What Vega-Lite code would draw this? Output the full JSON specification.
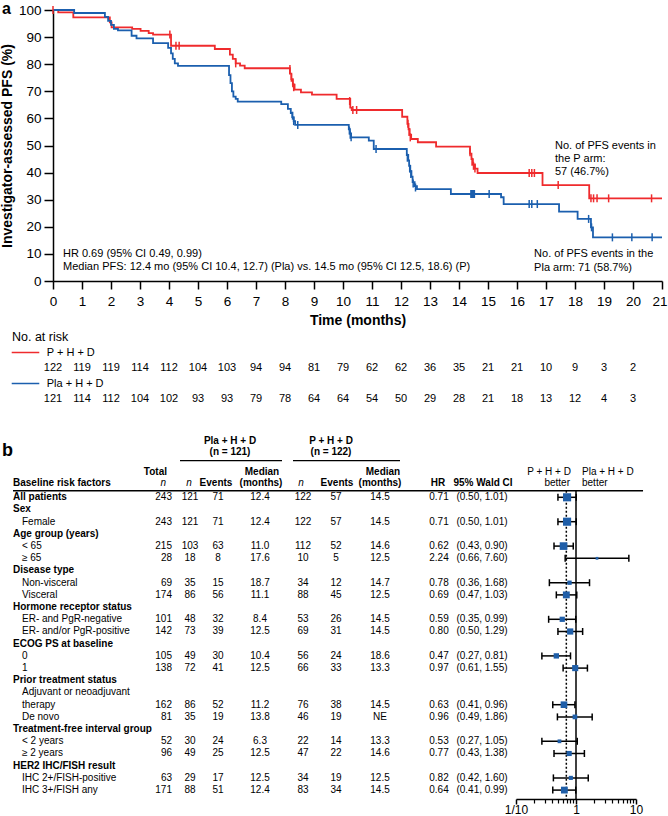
{
"$schema": "https://vega.github.io/schema/vega-lite/v6.json",
"padding": {"left": 0, "top": 1, "right": 0, "bottom": 0},
"autosize": {"type": "pad"},
"background": "white",
"config": {"font": "Liberation Sans", "view": {"stroke": null}, "text": {"color": "black"}, "axis": {"grid": false, "domainColor": "black", "tickColor": "black", "labelColor": "black", "titleColor": "black"}},
"datasets": {
"km": [
{"arm":"P","t":0,"s":100},{"arm":"P","t":0.18,"s":99.1},{"arm":"P","t":0.7,"s":97.3},{"arm":"P","t":1.96,"s":95.4},{"arm":"P","t":2.02,"s":93.6},{"arm":"P","t":2.73,"s":93.0},{"arm":"P","t":3.02,"s":92.3},{"arm":"P","t":3.3,"s":91.5},{"arm":"P","t":3.45,"s":90.9},{"arm":"P","t":4.07,"s":86.8},{"arm":"P","t":5.58,"s":85.6},{"arm":"P","t":6.1,"s":83.5},{"arm":"P","t":6.2,"s":82},{"arm":"P","t":6.3,"s":80.3},{"arm":"P","t":6.45,"s":79.5},{"arm":"P","t":6.61,"s":78.5},{"arm":"P","t":8.17,"s":76.5},{"arm":"P","t":8.22,"s":74.5},{"arm":"P","t":8.27,"s":72.5},{"arm":"P","t":8.33,"s":70.6},{"arm":"P","t":8.55,"s":69.6},{"arm":"P","t":8.93,"s":68.8},{"arm":"P","t":9.78,"s":67.2},{"arm":"P","t":10.25,"s":64},{"arm":"P","t":10.3,"s":63.1},{"arm":"P","t":12.04,"s":60.6},{"arm":"P","t":12.22,"s":58},{"arm":"P","t":12.26,"s":56},{"arm":"P","t":12.3,"s":54},{"arm":"P","t":12.35,"s":52.4},{"arm":"P","t":12.58,"s":51.2},{"arm":"P","t":13.21,"s":49.6},{"arm":"P","t":14.38,"s":47},{"arm":"P","t":14.43,"s":45},{"arm":"P","t":14.48,"s":43},{"arm":"P","t":14.55,"s":41.5},{"arm":"P","t":14.64,"s":39.85},{"arm":"P","t":16.88,"s":35.4},{"arm":"P","t":18.49,"s":30.5},{"arm":"P","t":21,"s":30.5},
{"arm":"Pla","t":0,"s":100},{"arm":"Pla","t":0.73,"s":98.9},{"arm":"Pla","t":1.79,"s":97.5},{"arm":"Pla","t":1.9,"s":96},{"arm":"Pla","t":2.0,"s":94.5},{"arm":"Pla","t":2.1,"s":93},{"arm":"Pla","t":2.24,"s":92.5},{"arm":"Pla","t":2.71,"s":90.5},{"arm":"Pla","t":2.88,"s":89.5},{"arm":"Pla","t":3.45,"s":87.8},{"arm":"Pla","t":3.97,"s":86},{"arm":"Pla","t":4.07,"s":84},{"arm":"Pla","t":4.13,"s":82},{"arm":"Pla","t":4.2,"s":80.3},{"arm":"Pla","t":4.31,"s":79.4},{"arm":"Pla","t":6.07,"s":76},{"arm":"Pla","t":6.12,"s":73},{"arm":"Pla","t":6.17,"s":70},{"arm":"Pla","t":6.22,"s":68},{"arm":"Pla","t":6.3,"s":67.2},{"arm":"Pla","t":6.37,"s":66.2},{"arm":"Pla","t":7.87,"s":65.3},{"arm":"Pla","t":8.1,"s":63.5},{"arm":"Pla","t":8.2,"s":62},{"arm":"Pla","t":8.25,"s":60.5},{"arm":"Pla","t":8.3,"s":59},{"arm":"Pla","t":8.35,"s":57.6},{"arm":"Pla","t":10.2,"s":56},{"arm":"Pla","t":10.24,"s":54.5},{"arm":"Pla","t":10.28,"s":53},{"arm":"Pla","t":10.89,"s":51.8},{"arm":"Pla","t":11.06,"s":48.7},{"arm":"Pla","t":12.2,"s":46.5},{"arm":"Pla","t":12.25,"s":44.5},{"arm":"Pla","t":12.28,"s":42.5},{"arm":"Pla","t":12.32,"s":40.5},{"arm":"Pla","t":12.36,"s":38.5},{"arm":"Pla","t":12.4,"s":36.5},{"arm":"Pla","t":12.47,"s":35},{"arm":"Pla","t":12.55,"s":33.9},{"arm":"Pla","t":13.72,"s":32.1},{"arm":"Pla","t":15.45,"s":30.9},{"arm":"Pla","t":15.54,"s":28.4},{"arm":"Pla","t":17.45,"s":25.6},{"arm":"Pla","t":18.09,"s":22.9},{"arm":"Pla","t":18.55,"s":19.8},{"arm":"Pla","t":18.62,"s":16.1},{"arm":"Pla","t":21,"s":16.1}
],
"cens": [
{"arm":"P","t":0,"s":100},{"arm":"P","t":4.03,"s":91},{"arm":"P","t":4.24,"s":86.8},{"arm":"P","t":4.35,"s":86.8},{"arm":"P","t":6.3,"s":80.3},{"arm":"P","t":8.17,"s":78.2},{"arm":"P","t":8.22,"s":75},{"arm":"P","t":8.27,"s":73},{"arm":"P","t":8.3,"s":71.5},{"arm":"P","t":10.23,"s":66.4},{"arm":"P","t":10.34,"s":63.1},{"arm":"P","t":10.47,"s":63.1},{"arm":"P","t":12.24,"s":58},{"arm":"P","t":12.28,"s":55},{"arm":"P","t":12.32,"s":53},{"arm":"P","t":14.38,"s":47.5},{"arm":"P","t":14.45,"s":44},{"arm":"P","t":14.5,"s":42.5},{"arm":"P","t":14.55,"s":41.5},{"arm":"P","t":16.42,"s":39.85},{"arm":"P","t":16.51,"s":39.85},{"arm":"P","t":16.6,"s":39.85},{"arm":"P","t":17.42,"s":35.4},{"arm":"P","t":18.55,"s":30.5},{"arm":"P","t":18.64,"s":30.5},{"arm":"P","t":18.76,"s":30.5},{"arm":"P","t":19.16,"s":30.5},{"arm":"P","t":20.64,"s":30.5},
{"arm":"Pla","t":8.26,"s":61},{"arm":"Pla","t":8.3,"s":59},{"arm":"Pla","t":8.44,"s":57.6},{"arm":"Pla","t":10.22,"s":55.5},{"arm":"Pla","t":10.25,"s":54},{"arm":"Pla","t":10.28,"s":53},{"arm":"Pla","t":11.14,"s":48.7},{"arm":"Pla","t":12.22,"s":45.5},{"arm":"Pla","t":12.3,"s":41.5},{"arm":"Pla","t":12.34,"s":39.5},{"arm":"Pla","t":12.42,"s":36},{"arm":"Pla","t":12.5,"s":34.5},{"arm":"Pla","t":14.41,"s":32.1},{"arm":"Pla","t":14.44,"s":32.1},{"arm":"Pla","t":14.47,"s":32.1},{"arm":"Pla","t":14.5,"s":32.1},{"arm":"Pla","t":14.53,"s":32.1},{"arm":"Pla","t":15.04,"s":32.1},{"arm":"Pla","t":16.42,"s":28.4},{"arm":"Pla","t":16.51,"s":28.4},{"arm":"Pla","t":16.7,"s":28.4},{"arm":"Pla","t":18.47,"s":22.9},{"arm":"Pla","t":18.57,"s":19.8},{"arm":"Pla","t":19.29,"s":16.1},{"arm":"Pla","t":19.96,"s":16.1},{"arm":"Pla","t":20.66,"s":16.1}
],
"risk": [
{"arm":"P","month":0,"n":122},{"arm":"P","month":1,"n":119},{"arm":"P","month":2,"n":119},{"arm":"P","month":3,"n":114},{"arm":"P","month":4,"n":112},{"arm":"P","month":5,"n":104},{"arm":"P","month":6,"n":103},{"arm":"P","month":7,"n":94},{"arm":"P","month":8,"n":94},{"arm":"P","month":9,"n":81},{"arm":"P","month":10,"n":79},{"arm":"P","month":11,"n":62},{"arm":"P","month":12,"n":62},{"arm":"P","month":13,"n":36},{"arm":"P","month":14,"n":35},{"arm":"P","month":15,"n":21},{"arm":"P","month":16,"n":21},{"arm":"P","month":17,"n":10},{"arm":"P","month":18,"n":9},{"arm":"P","month":19,"n":3},{"arm":"P","month":20,"n":2},
{"arm":"Pla","month":0,"n":121},{"arm":"Pla","month":1,"n":114},{"arm":"Pla","month":2,"n":112},{"arm":"Pla","month":3,"n":104},{"arm":"Pla","month":4,"n":102},{"arm":"Pla","month":5,"n":93},{"arm":"Pla","month":6,"n":93},{"arm":"Pla","month":7,"n":79},{"arm":"Pla","month":8,"n":78},{"arm":"Pla","month":9,"n":64},{"arm":"Pla","month":10,"n":64},{"arm":"Pla","month":11,"n":54},{"arm":"Pla","month":12,"n":50},{"arm":"Pla","month":13,"n":29},{"arm":"Pla","month":14,"n":28},{"arm":"Pla","month":15,"n":21},{"arm":"Pla","month":16,"n":18},{"arm":"Pla","month":17,"n":13},{"arm":"Pla","month":18,"n":12},{"arm":"Pla","month":19,"n":4},{"arm":"Pla","month":20,"n":3}
],
"rows": [
{"row":0,"kind":"a","label":"All patients","total":"243","pn":"121","pev":"71","pmed":"12.4","qn":"122","qev":"57","qmed":"14.5","hr":"0.71","ci":"(0.50, 1.01)","hrv":0.71,"lo":0.50,"hi":1.01,"w":243},
{"row":1,"kind":"h","label":"Sex"},
{"row":2,"kind":"s","label":"Female","total":"243","pn":"121","pev":"71","pmed":"12.4","qn":"122","qev":"57","qmed":"14.5","hr":"0.71","ci":"(0.50, 1.01)","hrv":0.71,"lo":0.50,"hi":1.01,"w":243},
{"row":3,"kind":"h","label":"Age group (years)"},
{"row":4,"kind":"s","label":"< 65","total":"215","pn":"103","pev":"63","pmed":"11.0","qn":"112","qev":"52","qmed":"14.6","hr":"0.62","ci":"(0.43, 0.90)","hrv":0.62,"lo":0.43,"hi":0.90,"w":215},
{"row":5,"kind":"s","label":"≥ 65","total":"28","pn":"18","pev":"8","pmed":"17.6","qn":"10","qev":"5","qmed":"12.5","hr":"2.24","ci":"(0.66, 7.60)","hrv":2.24,"lo":0.66,"hi":7.60,"w":28},
{"row":6,"kind":"h","label":"Disease type"},
{"row":7,"kind":"s","label":"Non-visceral","total":"69","pn":"35","pev":"15","pmed":"18.7","qn":"34","qev":"12","qmed":"14.7","hr":"0.78","ci":"(0.36, 1.68)","hrv":0.78,"lo":0.36,"hi":1.68,"w":69},
{"row":8,"kind":"s","label":"Visceral","total":"174","pn":"86","pev":"56","pmed":"11.1","qn":"88","qev":"45","qmed":"12.5","hr":"0.69","ci":"(0.47, 1.03)","hrv":0.69,"lo":0.47,"hi":1.03,"w":174},
{"row":9,"kind":"h","label":"Hormone receptor status"},
{"row":10,"kind":"s","label":"ER- and PgR-negative","total":"101","pn":"48","pev":"32","pmed":"8.4","qn":"53","qev":"26","qmed":"14.5","hr":"0.59","ci":"(0.35, 0.99)","hrv":0.59,"lo":0.35,"hi":0.99,"w":101},
{"row":11,"kind":"s","label":"ER- and/or PgR-positive","total":"142","pn":"73","pev":"39","pmed":"12.5","qn":"69","qev":"31","qmed":"14.5","hr":"0.80","ci":"(0.50, 1.29)","hrv":0.80,"lo":0.50,"hi":1.29,"w":142},
{"row":12,"kind":"h","label":"ECOG PS at baseline"},
{"row":13,"kind":"s","label":"0","total":"105","pn":"49","pev":"30","pmed":"10.4","qn":"56","qev":"24","qmed":"18.6","hr":"0.47","ci":"(0.27, 0.81)","hrv":0.47,"lo":0.27,"hi":0.81,"w":105},
{"row":14,"kind":"s","label":"1","total":"138","pn":"72","pev":"41","pmed":"12.5","qn":"66","qev":"33","qmed":"13.3","hr":"0.97","ci":"(0.61, 1.55)","hrv":0.97,"lo":0.61,"hi":1.55,"w":138},
{"row":15,"kind":"h","label":"Prior treatment status"},
{"row":16,"kind":"t","label":"Adjuvant or neoadjuvant"},
{"row":17,"kind":"s","label":"therapy","total":"162","pn":"86","pev":"52","pmed":"11.2","qn":"76","qev":"38","qmed":"14.5","hr":"0.63","ci":"(0.41, 0.96)","hrv":0.63,"lo":0.41,"hi":0.96,"w":162},
{"row":18,"kind":"s","label":"De novo","total":"81","pn":"35","pev":"19","pmed":"13.8","qn":"46","qev":"19","qmed":"NE","hr":"0.96","ci":"(0.49, 1.86)","hrv":0.96,"lo":0.49,"hi":1.86,"w":81},
{"row":19,"kind":"h","label":"Treatment-free interval group"},
{"row":20,"kind":"s","label":"< 2 years","total":"52","pn":"30","pev":"24","pmed":"6.3","qn":"22","qev":"14","qmed":"13.3","hr":"0.53","ci":"(0.27, 1.05)","hrv":0.53,"lo":0.27,"hi":1.05,"w":52},
{"row":21,"kind":"s","label":"≥ 2 years","total":"96","pn":"49","pev":"25","pmed":"12.5","qn":"47","qev":"22","qmed":"14.6","hr":"0.77","ci":"(0.43, 1.38)","hrv":0.77,"lo":0.43,"hi":1.38,"w":96},
{"row":22,"kind":"h","label":"HER2 IHC/FISH result"},
{"row":23,"kind":"s","label":"IHC 2+/FISH-positive","total":"63","pn":"29","pev":"17","pmed":"12.5","qn":"34","qev":"19","qmed":"12.5","hr":"0.82","ci":"(0.42, 1.60)","hrv":0.82,"lo":0.42,"hi":1.60,"w":63},
{"row":24,"kind":"s","label":"IHC 3+/FISH any","total":"171","pn":"88","pev":"51","pmed":"12.4","qn":"83","qev":"34","qmed":"14.5","hr":"0.64","ci":"(0.41, 0.99)","hrv":0.64,"lo":0.41,"hi":0.99,"w":171}
]
},
"bounds": "flush",
"spacing": 56,
"vconcat": [
{
"width": 609, "height": 271,
"resolve": {"axis": {"x": "independent", "y": "independent"}},
"layer": [
{"data": {"name": "km"}, "mark": {"type": "line", "interpolate": "step-after", "strokeWidth": 1.8},
 "encoding": {
  "x": {"field": "t", "type": "quantitative", "scale": {"domain": [0, 21], "nice": false, "zero": false},
   "axis": {"values": [0,1,2,3,4,5,6,7,8,9,10,11,12,13,14,15,16,17,18,19,20,21], "title": "Time (months)", "titleFontSize": 14, "titleFontWeight": "bold", "titlePadding": 6, "labelFontSize": 13.5, "labelPadding": 5, "tickSize": 8, "tickWidth": 1.5, "domainWidth": 1.5, "labelFlush": false, "labelOverlap": false, "labelOffset": {"condition": {"test": "datum.value == 21", "value": -2.5}, "value": 0}}},
  "y": {"field": "s", "type": "quantitative", "scale": {"domain": [0, 100], "nice": false, "zero": false},
   "axis": {"values": [0,10,20,30,40,50,60,70,80,90,100], "title": "Investigator-assessed PFS (%)", "titleFontSize": 14, "titleFontWeight": "bold", "titlePadding": 4, "labelFontSize": 13.5, "labelPadding": 3, "tickSize": 9, "tickWidth": 1.5, "domainWidth": 1.5}},
  "color": {"field": "arm", "type": "nominal", "scale": {"domain": ["Pla", "P"], "range": ["#1b5fae", "#ef2b2d"]}, "legend": null}
 }},
{"data": {"name": "cens"}, "mark": {"type": "point", "shape": "M0,-1L0,1", "size": 64, "strokeWidth": 1.5, "filled": false, "opacity": 1},
 "encoding": {
  "x": {"field": "t", "type": "quantitative", "scale": {"domain": [0, 21], "nice": false, "zero": false}, "axis": null},
  "y": {"field": "s", "type": "quantitative", "scale": {"domain": [0, 100], "nice": false, "zero": false}, "axis": null},
  "color": {"field": "arm", "type": "nominal", "scale": {"domain": ["Pla", "P"], "range": ["#1b5fae", "#ef2b2d"]}, "legend": null}
 }},
{"data": {"values": [{}]}, "mark": {"type": "text", "text": "a", "fontSize": 16, "fontWeight": "bold", "align": "left", "baseline": "alphabetic"},
 "encoding": {"x": {"datum": -1.7586, "scale": {"domain": [0, 21], "nice": false, "zero": false}, "axis": null}, "y": {"datum": 98.5, "scale": {"domain": [0, 100], "nice": false, "zero": false}, "axis": null}}},
{"data": {"values": [{}]}, "mark": {"type": "text", "text": "HR 0.69 (95% CI 0.49, 0.99)", "fontSize": 11, "align": "left", "baseline": "middle"},
 "encoding": {"x": {"datum": 0.345, "scale": {"domain": [0, 21], "nice": false, "zero": false}, "axis": null}, "y": {"datum": 10, "scale": {"domain": [0, 100], "nice": false, "zero": false}, "axis": null}}},
{"data": {"values": [{}]}, "mark": {"type": "text", "text": "Median PFS: 12.4 mo (95% CI 10.4, 12.7) (Pla) vs. 14.5 mo (95% CI 12.5, 18.6) (P)", "fontSize": 11, "align": "left", "baseline": "middle"},
 "encoding": {"x": {"datum": 0.345, "scale": {"domain": [0, 21], "nice": false, "zero": false}, "axis": null}, "y": {"datum": 5.1, "scale": {"domain": [0, 100], "nice": false, "zero": false}, "axis": null}}},
{"data": {"values": [{}]}, "mark": {"type": "text", "text": ["No. of PFS events in", "the P arm:", "57 (46.7%)"], "lineHeight": 13.3, "fontSize": 11, "align": "left", "baseline": "middle"},
 "encoding": {"x": {"datum": 17.31, "scale": {"domain": [0, 21], "nice": false, "zero": false}, "axis": null}, "y": {"datum": 49.9, "scale": {"domain": [0, 100], "nice": false, "zero": false}, "axis": null}}},
{"data": {"values": [{}]}, "mark": {"type": "text", "text": ["No. of PFS events in the", "Pla arm: 71 (58.7%)"], "lineHeight": 13.5, "fontSize": 11, "align": "left", "baseline": "middle"},
 "encoding": {"x": {"datum": 16.59, "scale": {"domain": [0, 21], "nice": false, "zero": false}, "axis": null}, "y": {"datum": 9.96, "scale": {"domain": [0, 100], "nice": false, "zero": false}, "axis": null}}}
]
},
{
"width": 609, "height": 62,
"layer": [
{"data": {"name": "risk"}, "mark": {"type": "text", "fontSize": 11, "align": "center", "baseline": "middle"},
 "encoding": {
  "x": {"field": "month", "type": "quantitative", "scale": {"domain": [0, 21], "nice": false, "zero": false}, "axis": null},
  "y": {"field": "arm", "type": "nominal", "scale": {"type": "point", "domain": ["title", "pleg", "P", "plaleg", "Pla"], "padding": 0}, "axis": null},
  "text": {"field": "n", "type": "quantitative"}
 }},
{"data": {"values": [{}]}, "mark": {"type": "text", "text": "No. at risk", "fontSize": 12.5, "align": "left", "baseline": "middle"},
 "encoding": {"x": {"datum": -1.414, "scale": {"domain": [0, 21], "nice": false, "zero": false}, "axis": null}, "y": {"datum": "title", "type": "nominal", "scale": {"type": "point", "domain": ["title", "pleg", "P", "plaleg", "Pla"], "padding": 0}, "axis": null}}},
{"data": {"values": [{}]}, "mark": {"type": "rule", "color": "#ef2b2d", "strokeWidth": 1.5},
 "encoding": {"x": {"datum": -1.424, "scale": {"domain": [0, 21], "nice": false, "zero": false}, "axis": null}, "x2": {"datum": -0.473}, "y": {"datum": "pleg", "type": "nominal", "scale": {"type": "point", "domain": ["title", "pleg", "P", "plaleg", "Pla"], "padding": 0}, "axis": null}}},
{"data": {"values": [{}]}, "mark": {"type": "rule", "color": "#1b5fae", "strokeWidth": 1.5},
 "encoding": {"x": {"datum": -1.424, "scale": {"domain": [0, 21], "nice": false, "zero": false}, "axis": null}, "x2": {"datum": -0.473}, "y": {"datum": "plaleg", "type": "nominal", "scale": {"type": "point", "domain": ["title", "pleg", "P", "plaleg", "Pla"], "padding": 0}, "axis": null}}},
{"data": {"values": [{}]}, "mark": {"type": "text", "text": "P + H + D", "fontSize": 11, "align": "left", "baseline": "middle"},
 "encoding": {"x": {"datum": -0.217, "scale": {"domain": [0, 21], "nice": false, "zero": false}, "axis": null}, "y": {"datum": "pleg", "type": "nominal", "scale": {"type": "point", "domain": ["title", "pleg", "P", "plaleg", "Pla"], "padding": 0}, "axis": null}}},
{"data": {"values": [{}]}, "mark": {"type": "text", "text": "Pla + H + D", "fontSize": 11, "align": "left", "baseline": "middle"},
 "encoding": {"x": {"datum": -0.217, "scale": {"domain": [0, 21], "nice": false, "zero": false}, "axis": null}, "y": {"datum": "plaleg", "type": "nominal", "scale": {"type": "point", "domain": ["title", "pleg", "P", "plaleg", "Pla"], "padding": 0}, "axis": null}}}
]
},
{
"bounds": "flush",
"spacing": 10,
"hconcat": [
{
"width": 453, "height": 344,
"layer": [
{"data": {"values": [{}]}, "mark": {"type": "text", "text": "b", "fontSize": 18, "fontWeight": "bold", "align": "left", "baseline": "alphabetic"},
 "encoding": {"x": {"datum": 2, "scale": {"domain": [53, 506], "nice": false, "zero": false}, "axis": null}, "y": {"datum": -3.385, "scale": {"domain": [-3.467, 24.73], "reverse": true, "nice": false, "zero": false}, "axis": null}}},
{"data": {"values": [{}]}, "mark": {"type": "text", "text": "Pla + H + D", "fontSize": 10, "fontWeight": "bold", "align": "center", "baseline": "middle"},
 "encoding": {"x": {"datum": 230, "scale": {"domain": [53, 506], "nice": false, "zero": false}, "axis": null}, "y": {"datum": -4.639, "scale": {"domain": [-3.467, 24.73], "reverse": true, "nice": false, "zero": false}, "axis": null}}},
{"data": {"values": [{}]}, "mark": {"type": "text", "text": "(n = 121)", "fontSize": 10, "fontWeight": "bold", "align": "center", "baseline": "middle"},
 "encoding": {"x": {"datum": 230, "scale": {"domain": [53, 506], "nice": false, "zero": false}, "axis": null}, "y": {"datum": -3.689, "scale": {"domain": [-3.467, 24.73], "reverse": true, "nice": false, "zero": false}, "axis": null}}},
{"data": {"values": [{}]}, "mark": {"type": "text", "text": "P + H + D", "fontSize": 10, "fontWeight": "bold", "align": "center", "baseline": "middle"},
 "encoding": {"x": {"datum": 331, "scale": {"domain": [53, 506], "nice": false, "zero": false}, "axis": null}, "y": {"datum": -4.639, "scale": {"domain": [-3.467, 24.73], "reverse": true, "nice": false, "zero": false}, "axis": null}}},
{"data": {"values": [{}]}, "mark": {"type": "text", "text": "(n = 122)", "fontSize": 10, "fontWeight": "bold", "align": "center", "baseline": "middle"},
 "encoding": {"x": {"datum": 331, "scale": {"domain": [53, 506], "nice": false, "zero": false}, "axis": null}, "y": {"datum": -3.689, "scale": {"domain": [-3.467, 24.73], "reverse": true, "nice": false, "zero": false}, "axis": null}}},
{"data": {"values": [{}]}, "mark": {"type": "rule", "strokeWidth": 1.2, "color": "black"},
 "encoding": {"x": {"datum": 180, "scale": {"domain": [53, 506], "nice": false, "zero": false}, "axis": null}, "x2": {"datum": 282}, "y": {"datum": -3.0, "scale": {"domain": [-3.467, 24.73], "reverse": true, "nice": false, "zero": false}, "axis": null}}},
{"data": {"values": [{}]}, "mark": {"type": "rule", "strokeWidth": 1.2, "color": "black"},
 "encoding": {"x": {"datum": 293, "scale": {"domain": [53, 506], "nice": false, "zero": false}, "axis": null}, "x2": {"datum": 400}, "y": {"datum": -3.0, "scale": {"domain": [-3.467, 24.73], "reverse": true, "nice": false, "zero": false}, "axis": null}}},
{"data": {"values": [{}]}, "mark": {"type": "text", "text": "Total", "fontSize": 10, "fontWeight": "bold", "align": "right", "baseline": "middle"},
 "encoding": {"x": {"datum": 167, "scale": {"domain": [53, 506], "nice": false, "zero": false}, "axis": null}, "y": {"datum": -2.098, "scale": {"domain": [-3.467, 24.73], "reverse": true, "nice": false, "zero": false}, "axis": null}}},
{"data": {"values": [{}]}, "mark": {"type": "text", "text": "n", "fontSize": 10, "fontStyle": "italic", "align": "right", "baseline": "middle"},
 "encoding": {"x": {"datum": 166, "scale": {"domain": [53, 506], "nice": false, "zero": false}, "axis": null}, "y": {"datum": -1.148, "scale": {"domain": [-3.467, 24.73], "reverse": true, "nice": false, "zero": false}, "axis": null}}},
{"data": {"values": [{}]}, "mark": {"type": "text", "text": "Baseline risk factors", "fontSize": 10, "fontWeight": "bold", "align": "left", "baseline": "middle"},
 "encoding": {"x": {"datum": 13, "scale": {"domain": [53, 506], "nice": false, "zero": false}, "axis": null}, "y": {"datum": -1.148, "scale": {"domain": [-3.467, 24.73], "reverse": true, "nice": false, "zero": false}, "axis": null}}},
{"data": {"values": [{}]}, "mark": {"type": "text", "text": "n", "fontSize": 10, "fontStyle": "italic", "align": "center", "baseline": "middle"},
 "encoding": {"x": {"datum": 189, "scale": {"domain": [53, 506], "nice": false, "zero": false}, "axis": null}, "y": {"datum": -1.148, "scale": {"domain": [-3.467, 24.73], "reverse": true, "nice": false, "zero": false}, "axis": null}}},
{"data": {"values": [{}]}, "mark": {"type": "text", "text": "Events", "fontSize": 10, "fontWeight": "bold", "align": "center", "baseline": "middle"},
 "encoding": {"x": {"datum": 216, "scale": {"domain": [53, 506], "nice": false, "zero": false}, "axis": null}, "y": {"datum": -1.148, "scale": {"domain": [-3.467, 24.73], "reverse": true, "nice": false, "zero": false}, "axis": null}}},
{"data": {"values": [{}]}, "mark": {"type": "text", "text": "Median", "fontSize": 10, "fontWeight": "bold", "align": "center", "baseline": "middle"},
 "encoding": {"x": {"datum": 262, "scale": {"domain": [53, 506], "nice": false, "zero": false}, "axis": null}, "y": {"datum": -2.098, "scale": {"domain": [-3.467, 24.73], "reverse": true, "nice": false, "zero": false}, "axis": null}}},
{"data": {"values": [{}]}, "mark": {"type": "text", "text": "(months)", "fontSize": 10, "fontWeight": "bold", "align": "center", "baseline": "middle"},
 "encoding": {"x": {"datum": 261, "scale": {"domain": [53, 506], "nice": false, "zero": false}, "axis": null}, "y": {"datum": -1.148, "scale": {"domain": [-3.467, 24.73], "reverse": true, "nice": false, "zero": false}, "axis": null}}},
{"data": {"values": [{}]}, "mark": {"type": "text", "text": "n", "fontSize": 10, "fontStyle": "italic", "align": "center", "baseline": "middle"},
 "encoding": {"x": {"datum": 301, "scale": {"domain": [53, 506], "nice": false, "zero": false}, "axis": null}, "y": {"datum": -1.148, "scale": {"domain": [-3.467, 24.73], "reverse": true, "nice": false, "zero": false}, "axis": null}}},
{"data": {"values": [{}]}, "mark": {"type": "text", "text": "Events", "fontSize": 10, "fontWeight": "bold", "align": "center", "baseline": "middle"},
 "encoding": {"x": {"datum": 337, "scale": {"domain": [53, 506], "nice": false, "zero": false}, "axis": null}, "y": {"datum": -1.148, "scale": {"domain": [-3.467, 24.73], "reverse": true, "nice": false, "zero": false}, "axis": null}}},
{"data": {"values": [{}]}, "mark": {"type": "text", "text": "Median", "fontSize": 10, "fontWeight": "bold", "align": "center", "baseline": "middle"},
 "encoding": {"x": {"datum": 383, "scale": {"domain": [53, 506], "nice": false, "zero": false}, "axis": null}, "y": {"datum": -2.098, "scale": {"domain": [-3.467, 24.73], "reverse": true, "nice": false, "zero": false}, "axis": null}}},
{"data": {"values": [{}]}, "mark": {"type": "text", "text": "(months)", "fontSize": 10, "fontWeight": "bold", "align": "center", "baseline": "middle"},
 "encoding": {"x": {"datum": 380, "scale": {"domain": [53, 506], "nice": false, "zero": false}, "axis": null}, "y": {"datum": -1.148, "scale": {"domain": [-3.467, 24.73], "reverse": true, "nice": false, "zero": false}, "axis": null}}},
{"data": {"values": [{}]}, "mark": {"type": "text", "text": "HR", "fontSize": 10, "fontWeight": "bold", "align": "center", "baseline": "middle"},
 "encoding": {"x": {"datum": 438, "scale": {"domain": [53, 506], "nice": false, "zero": false}, "axis": null}, "y": {"datum": -1.148, "scale": {"domain": [-3.467, 24.73], "reverse": true, "nice": false, "zero": false}, "axis": null}}},
{"data": {"values": [{}]}, "mark": {"type": "text", "text": "95% Wald CI", "fontSize": 10, "fontWeight": "bold", "align": "center", "baseline": "middle"},
 "encoding": {"x": {"datum": 483, "scale": {"domain": [53, 506], "nice": false, "zero": false}, "axis": null}, "y": {"datum": -1.148, "scale": {"domain": [-3.467, 24.73], "reverse": true, "nice": false, "zero": false}, "axis": null}}},
{"data": {"values": [{}]}, "mark": {"type": "rule", "strokeWidth": 1.5, "color": "black"},
 "encoding": {"x": {"datum": 13, "scale": {"domain": [53, 506], "nice": false, "zero": false}, "axis": null}, "x2": {"datum": 516}, "y": {"datum": -0.541, "scale": {"domain": [-3.467, 24.73], "reverse": true, "nice": false, "zero": false}, "axis": null}}},
{"data": {"name": "rows"}, "transform": [{"filter": "datum.kind == 'h' || datum.kind == 'a'"}], "mark": {"type": "text", "fontSize": 10, "fontWeight": "bold", "align": "left", "baseline": "middle"},
 "encoding": {"x": {"datum": 13, "scale": {"domain": [53, 506], "nice": false, "zero": false}, "axis": null}, "y": {"field": "row", "type": "quantitative", "scale": {"domain": [-3.467, 24.73], "reverse": true, "nice": false, "zero": false}, "axis": null}, "text": {"field": "label", "type": "nominal"}}},
{"data": {"name": "rows"}, "transform": [{"filter": "datum.kind == 's' || datum.kind == 't'"}], "mark": {"type": "text", "fontSize": 10, "align": "left", "baseline": "middle"},
 "encoding": {"x": {"datum": 22, "scale": {"domain": [53, 506], "nice": false, "zero": false}, "axis": null}, "y": {"field": "row", "type": "quantitative", "scale": {"domain": [-3.467, 24.73], "reverse": true, "nice": false, "zero": false}, "axis": null}, "text": {"field": "label", "type": "nominal"}}},
{"data": {"name": "rows"}, "transform": [{"filter": "isValid(datum.total)"}], "mark": {"type": "text", "fontSize": 10, "align": "right", "baseline": "middle"},
 "encoding": {"x": {"datum": 172, "scale": {"domain": [53, 506], "nice": false, "zero": false}, "axis": null}, "y": {"field": "row", "type": "quantitative", "scale": {"domain": [-3.467, 24.73], "reverse": true, "nice": false, "zero": false}, "axis": null}, "text": {"field": "total", "type": "nominal"}}},
{"data": {"name": "rows"}, "transform": [{"filter": "isValid(datum.total)"}], "mark": {"type": "text", "fontSize": 10, "align": "center", "baseline": "middle"},
 "encoding": {"x": {"datum": 190, "scale": {"domain": [53, 506], "nice": false, "zero": false}, "axis": null}, "y": {"field": "row", "type": "quantitative", "scale": {"domain": [-3.467, 24.73], "reverse": true, "nice": false, "zero": false}, "axis": null}, "text": {"field": "pn", "type": "nominal"}}},
{"data": {"name": "rows"}, "transform": [{"filter": "isValid(datum.total)"}], "mark": {"type": "text", "fontSize": 10, "align": "center", "baseline": "middle"},
 "encoding": {"x": {"datum": 218, "scale": {"domain": [53, 506], "nice": false, "zero": false}, "axis": null}, "y": {"field": "row", "type": "quantitative", "scale": {"domain": [-3.467, 24.73], "reverse": true, "nice": false, "zero": false}, "axis": null}, "text": {"field": "pev", "type": "nominal"}}},
{"data": {"name": "rows"}, "transform": [{"filter": "isValid(datum.total)"}], "mark": {"type": "text", "fontSize": 10, "align": "center", "baseline": "middle"},
 "encoding": {"x": {"datum": 260, "scale": {"domain": [53, 506], "nice": false, "zero": false}, "axis": null}, "y": {"field": "row", "type": "quantitative", "scale": {"domain": [-3.467, 24.73], "reverse": true, "nice": false, "zero": false}, "axis": null}, "text": {"field": "pmed", "type": "nominal"}}},
{"data": {"name": "rows"}, "transform": [{"filter": "isValid(datum.total)"}], "mark": {"type": "text", "fontSize": 10, "align": "center", "baseline": "middle"},
 "encoding": {"x": {"datum": 303, "scale": {"domain": [53, 506], "nice": false, "zero": false}, "axis": null}, "y": {"field": "row", "type": "quantitative", "scale": {"domain": [-3.467, 24.73], "reverse": true, "nice": false, "zero": false}, "axis": null}, "text": {"field": "qn", "type": "nominal"}}},
{"data": {"name": "rows"}, "transform": [{"filter": "isValid(datum.total)"}], "mark": {"type": "text", "fontSize": 10, "align": "center", "baseline": "middle"},
 "encoding": {"x": {"datum": 336, "scale": {"domain": [53, 506], "nice": false, "zero": false}, "axis": null}, "y": {"field": "row", "type": "quantitative", "scale": {"domain": [-3.467, 24.73], "reverse": true, "nice": false, "zero": false}, "axis": null}, "text": {"field": "qev", "type": "nominal"}}},
{"data": {"name": "rows"}, "transform": [{"filter": "isValid(datum.total)"}], "mark": {"type": "text", "fontSize": 10, "align": "center", "baseline": "middle"},
 "encoding": {"x": {"datum": 380, "scale": {"domain": [53, 506], "nice": false, "zero": false}, "axis": null}, "y": {"field": "row", "type": "quantitative", "scale": {"domain": [-3.467, 24.73], "reverse": true, "nice": false, "zero": false}, "axis": null}, "text": {"field": "qmed", "type": "nominal"}}},
{"data": {"name": "rows"}, "transform": [{"filter": "isValid(datum.total)"}], "mark": {"type": "text", "fontSize": 10, "align": "center", "baseline": "middle"},
 "encoding": {"x": {"datum": 439, "scale": {"domain": [53, 506], "nice": false, "zero": false}, "axis": null}, "y": {"field": "row", "type": "quantitative", "scale": {"domain": [-3.467, 24.73], "reverse": true, "nice": false, "zero": false}, "axis": null}, "text": {"field": "hr", "type": "nominal"}}},
{"data": {"name": "rows"}, "transform": [{"filter": "isValid(datum.total)"}], "mark": {"type": "text", "fontSize": 10, "align": "center", "baseline": "middle"},
 "encoding": {"x": {"datum": 482, "scale": {"domain": [53, 506], "nice": false, "zero": false}, "axis": null}, "y": {"field": "row", "type": "quantitative", "scale": {"domain": [-3.467, 24.73], "reverse": true, "nice": false, "zero": false}, "axis": null}, "text": {"field": "ci", "type": "nominal"}}}
]
},
{
"width": 120, "height": 344,
"resolve": {"axis": {"x": "independent"}},
"layer": [
{"data": {"values": [{}]}, "mark": {"type": "rule", "strokeWidth": 1.5, "color": "black"},
 "encoding": {"x": {"datum": 0.1, "scale": {"type": "log", "domain": [0.1, 10], "nice": false}, "axis": null}, "x2": {"datum": 13.1}, "y": {"datum": -0.541, "scale": {"domain": [-3.467, 24.73], "reverse": true, "nice": false, "zero": false}, "axis": null}}},
{"data": {"values": [{}]}, "mark": {"type": "rule", "strokeWidth": 1.5, "color": "black"},
 "encoding": {"x": {"datum": 1, "scale": {"type": "log", "domain": [0.1, 10], "nice": false}, "axis": null}, "y": {"datum": -0.541, "scale": {"domain": [-3.467, 24.73], "reverse": true, "nice": false, "zero": false}, "axis": null}, "y2": {"datum": 24.73}}},
{"data": {"values": [{}]}, "mark": {"type": "rule", "strokeWidth": 1.5, "color": "black", "strokeDash": [2, 2]},
 "encoding": {"x": {"datum": 0.69, "scale": {"type": "log", "domain": [0.1, 10], "nice": false}, "axis": null}, "y": {"datum": -0.541, "scale": {"domain": [-3.467, 24.73], "reverse": true, "nice": false, "zero": false}, "axis": null}, "y2": {"datum": 24.73}}},
{"data": {"name": "rows"}, "transform": [{"filter": "isValid(datum.hrv)"}], "mark": {"type": "rule", "strokeWidth": 1.5, "color": "black"},
 "encoding": {"x": {"field": "lo", "type": "quantitative", "scale": {"type": "log", "domain": [0.1, 10], "nice": false},
   "axis": {"orient": "bottom", "values": [0.2,0.3,0.4,0.5,0.6,0.7,0.8,0.9,2,3,4,5,6,7,8,9], "labels": false, "domain": false, "tickSize": 4, "tickWidth": 1.2, "title": null, "grid": false}},
  "x2": {"field": "hi"},
  "y": {"field": "row", "type": "quantitative", "scale": {"domain": [-3.467, 24.73], "reverse": true, "nice": false, "zero": false}, "axis": null}}},
{"data": {"name": "rows"}, "transform": [{"filter": "isValid(datum.hrv)"}], "mark": {"type": "point", "shape": "M0,-1L0,1", "size": 49, "strokeWidth": 1.5, "filled": false, "color": "black", "opacity": 1},
 "encoding": {"x": {"field": "lo", "type": "quantitative", "scale": {"type": "log", "domain": [0.1, 10], "nice": false}, "axis": null},
  "y": {"field": "row", "type": "quantitative", "scale": {"domain": [-3.467, 24.73], "reverse": true, "nice": false, "zero": false}, "axis": null}}},
{"data": {"name": "rows"}, "transform": [{"filter": "isValid(datum.hrv)"}], "mark": {"type": "point", "shape": "M0,-1L0,1", "size": 49, "strokeWidth": 1.5, "filled": false, "color": "black", "opacity": 1},
 "encoding": {"x": {"field": "hi", "type": "quantitative", "scale": {"type": "log", "domain": [0.1, 10], "nice": false}, "axis": null},
  "y": {"field": "row", "type": "quantitative", "scale": {"domain": [-3.467, 24.73], "reverse": true, "nice": false, "zero": false}, "axis": null}}},
{"data": {"name": "rows"}, "transform": [{"filter": "isValid(datum.hrv)"}], "mark": {"type": "point", "shape": "square", "filled": true, "color": "#1f5ea8", "opacity": 1},
 "encoding": {"x": {"field": "hrv", "type": "quantitative", "scale": {"type": "log", "domain": [0.1, 10], "nice": false},
   "axis": {"orient": "bottom", "values": [0.1, 1, 10], "labelExpr": "datum.value < 0.5 ? '1/10' : (datum.value < 5 ? '1' : '10')", "title": null, "tickSize": 5, "tickWidth": 1.5, "domainWidth": 1.5, "labelFontSize": 12, "labelPadding": 0, "labelFlush": false, "grid": false}},
  "y": {"field": "row", "type": "quantitative", "scale": {"domain": [-3.467, 24.73], "reverse": true, "nice": false, "zero": false}, "axis": null},
  "size": {"field": "w", "type": "quantitative", "scale": {"domain": [0, 243], "range": [0, 66]}, "legend": null}}},
{"data": {"values": [{}]}, "mark": {"type": "text", "text": "P + H + D", "fontSize": 10, "align": "center", "baseline": "middle"},
 "encoding": {"x": {"datum": 0.355, "scale": {"type": "log", "domain": [0.1, 10], "nice": false}, "axis": null}, "y": {"datum": -2.098, "scale": {"domain": [-3.467, 24.73], "reverse": true, "nice": false, "zero": false}, "axis": null}}},
{"data": {"values": [{}]}, "mark": {"type": "text", "text": "better", "fontSize": 10, "align": "right", "baseline": "middle"},
 "encoding": {"x": {"datum": 0.794, "scale": {"type": "log", "domain": [0.1, 10], "nice": false}, "axis": null}, "y": {"datum": -1.148, "scale": {"domain": [-3.467, 24.73], "reverse": true, "nice": false, "zero": false}, "axis": null}}},
{"data": {"values": [{}]}, "mark": {"type": "text", "text": "Pla + H + D", "fontSize": 10, "align": "left", "baseline": "middle"},
 "encoding": {"x": {"datum": 1.259, "scale": {"type": "log", "domain": [0.1, 10], "nice": false}, "axis": null}, "y": {"datum": -2.098, "scale": {"domain": [-3.467, 24.73], "reverse": true, "nice": false, "zero": false}, "axis": null}}},
{"data": {"values": [{}]}, "mark": {"type": "text", "text": "better", "fontSize": 10, "align": "left", "baseline": "middle"},
 "encoding": {"x": {"datum": 1.259, "scale": {"type": "log", "domain": [0.1, 10], "nice": false}, "axis": null}, "y": {"datum": -1.148, "scale": {"domain": [-3.467, 24.73], "reverse": true, "nice": false, "zero": false}, "axis": null}}}
]
}
]
}
]
}
